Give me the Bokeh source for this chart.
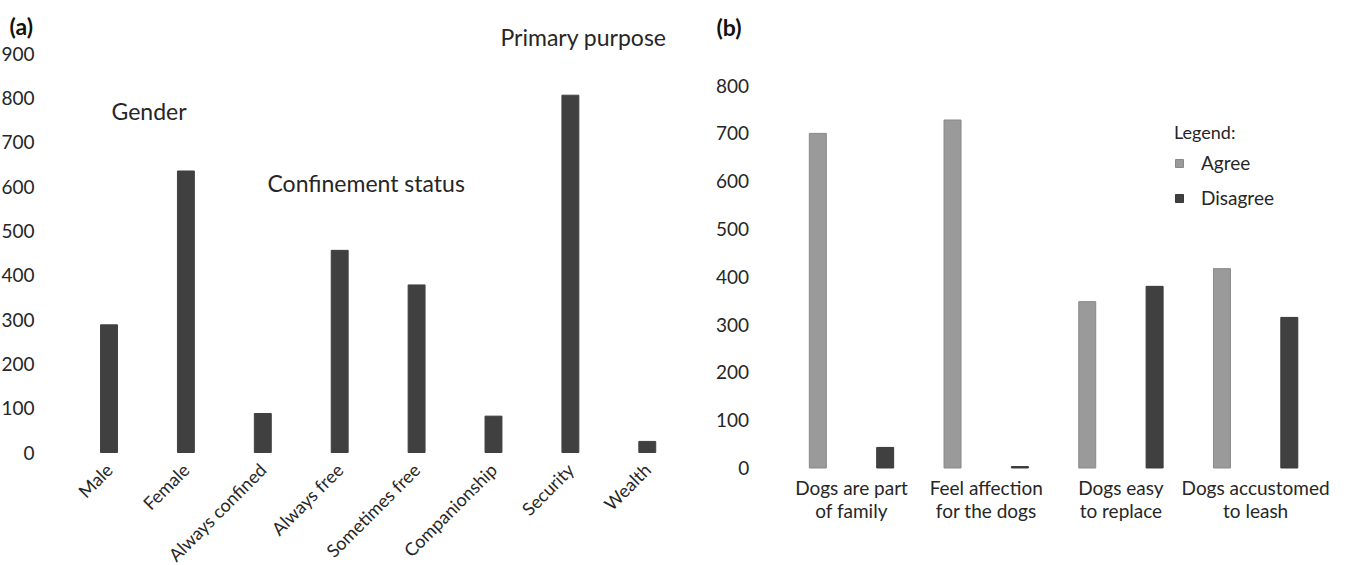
import math
from bokeh.plotting import figure
from bokeh.models import Range1d, FixedTicker, Label, Legend, LegendItem, ColumnDataSource
from bokeh.transform import dodge
from bokeh.layouts import row
from bokeh.embed import file_html
from bokeh.resources import INLINE

# ---- data: panel (a) ----
a_categories = ["Male", "Female", "Always confined", "Always free",
                "Sometimes free", "Companionship", "Security", "Wealth"]
a_values = [288, 635, 88, 456, 378, 82, 806, 25]
a_ticks = [0, 100, 200, 300, 400, 500, 600, 700, 800, 900]

# ---- data: panel (b) ----
b_categories = ["Dogs are part\nof family", "Feel affection\nfor the dogs",
                "Dogs easy\nto replace", "Dogs accustomed\nto leash"]
b_agree = [700, 728, 348, 417]
b_disagree = [43, 3, 380, 315]
b_ticks = [0, 100, 200, 300, 400, 500, 600, 700, 800]

FONT = "Lato"
TXT = "#262626"
H = 565


def style(p, ticks, cats, ypos):
    p.outline_line_color = None
    p.xgrid.grid_line_color = None
    p.ygrid.grid_line_color = None
    for ax in (p.xaxis[0], p.yaxis[0]):
        ax.axis_line_color = None
        ax.major_tick_line_color = None
        ax.minor_tick_line_color = None
        ax.major_label_text_font = FONT
        ax.major_label_text_color = TXT
        ax.major_label_text_font_size = "19px"
    pos = list(range(len(cats)))
    p.xaxis[0].ticker = FixedTicker(ticks=pos)
    p.xaxis[0].major_label_overrides = {i: c for i, c in zip(pos, cats)}
    p.xaxis[0].fixed_location = 0
    p.yaxis[0].ticker = FixedTicker(ticks=ticks)
    p.yaxis[0].fixed_location = ypos
    return pos


# ---------------- panel (a) ----------------
p1 = figure(width=700, height=H,
            x_range=Range1d(-1.411, 7.692),
            y_range=Range1d(-254.9, 1019.6),
            output_backend="svg", toolbar_location=None,
            min_border_left=0, min_border_right=0,
            min_border_top=0, min_border_bottom=0)
a_pos = style(p1, a_ticks, a_categories, -0.5)
p1.vbar(x=a_pos, top=a_values, width=0.22,
        fill_color="#404040", line_color="#404040")
p1.yaxis[0].major_label_standoff = 30
p1.xaxis[0].major_label_orientation = math.pi / 4
p1.xaxis[0].major_label_standoff = 8
p1.xaxis[0].major_label_text_font_size = "18px"

for txt, x, y in [("Gender", 0.033, 771),
                  ("Confinement status", 2.061, 607),
                  ("Primary purpose", 5.091, 938)]:
    p1.add_layout(Label(x=x, y=y, text=txt, text_font=FONT, text_font_size="23px",
                        text_color=TXT, text_align="left", text_baseline="middle"))
p1.add_layout(Label(x=-1.294, y=963, text="(a)",
                    text_font=FONT, text_font_size="23px", text_font_style="bold",
                    text_color="#111111", text_align="left", text_baseline="middle"))

# ---------------- panel (b) ----------------
p2 = figure(width=654, height=H,
            x_range=Range1d(-1.121, 3.734),
            y_range=Range1d(-204, 978),
            output_backend="svg", toolbar_location=None,
            min_border_left=0, min_border_right=0,
            min_border_top=0, min_border_bottom=0)
b_pos = style(p2, b_ticks, b_categories, -0.5)
src = ColumnDataSource(dict(x=b_pos, agree=b_agree, disagree=b_disagree))
r_ag = p2.vbar(x=dodge("x", -0.25), top="agree", width=0.126, source=src,
               fill_color="#9a9a9a", line_color="#888888")
r_dis = p2.vbar(x=dodge("x", 0.25), top="disagree", width=0.126, source=src,
                fill_color="#404040", line_color="#3a3a3a")
p2.yaxis[0].major_label_standoff = 29
p2.xaxis[0].major_label_standoff = 2
p2.xaxis[0].major_label_text_line_height = 1.0

p2.add_layout(Label(x=-1.002, y=923, text="(b)",
                    text_font=FONT, text_font_size="23px", text_font_style="bold",
                    text_color="#111111", text_align="left",
                    text_baseline="middle"))

legend = Legend(items=[LegendItem(label="Agree", renderers=[r_ag]),
                       LegendItem(label="Disagree", renderers=[r_dis])],
                title="Legend:", location=(474, 356))
legend.title_text_font = FONT
legend.title_text_font_size = "18px"
legend.title_text_font_style = "normal"
legend.title_text_color = TXT
legend.title_standoff = 8
legend.label_text_font = FONT
legend.label_text_font_size = "19px"
legend.label_text_color = TXT
legend.glyph_width = 10
legend.glyph_height = 10
legend.label_height = 20
legend.label_standoff = 17
legend.spacing = 12
legend.padding = 0
legend.margin = 0
legend.border_line_color = None
legend.background_fill_alpha = 0
p2.add_layout(legend)

layout = row(p1, p2)
open("out.html", "w").write(file_html(layout, INLINE))
